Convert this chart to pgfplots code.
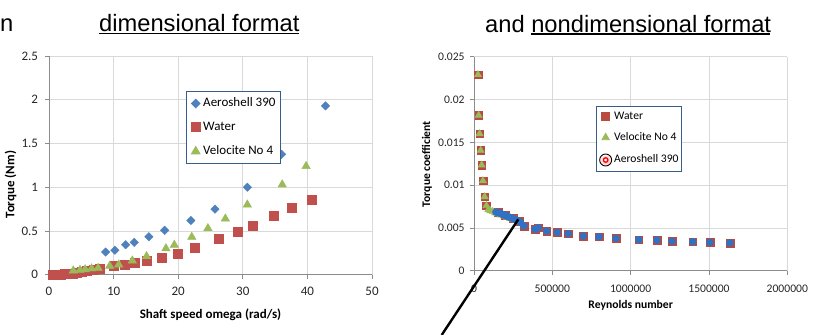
\documentclass[border=0pt]{standalone}
\usepackage{pgfplots}
\pgfplotsset{compat=1.18}
\usepackage{fontspec}
\setmainfont{Carlito}
\newfontfamily\arialfont{Liberation Sans}
\definecolor{aeroblue}{HTML}{4F81BD}
\definecolor{waterred}{HTML}{C0504D}
\definecolor{velgreen}{HTML}{9BBB59}
\definecolor{water2}{HTML}{B84A40}
\definecolor{aero2}{HTML}{2F72C4}
\definecolor{legblue}{HTML}{385D8A}
\definecolor{gridgray}{HTML}{D9D9D9}
\definecolor{axgray}{HTML}{8C8C8C}
\pgfplotsset{
  excel/.style={
    scale only axis, clip=false,
    axis lines*=left,
    axis line style={axgray, line width=0.8pt},
    grid=major, grid style={gridgray, line width=0.8pt},
    tick align=outside, major tick length=4bp,
    tick style={axgray, line width=0.8pt},
    xtick pos=bottom, ytick pos=left,
    ticklabel style={text=black!85},
    legend cell align=left,
    legend image code/.code={\draw[##1] plot coordinates {(0bp,0bp)};},
  }
}
\begin{document}
\begin{tikzpicture}
\useasboundingbox (0,0) rectangle (813bp,335bp);
% ---------- left: dimensional ----------
\begin{axis}[excel,
  at={(49bp,60.3bp)}, anchor=south west,
  width=323bp, height=218.7bp,
  xmin=0, xmax=50, ymin=0, ymax=2.5,
  xtick={0,10,20,30,40,50}, xticklabels={0,10,20,30,40,50},
  ytick={0,0.5,1,1.5,2,2.5}, yticklabels={0,0.5,1,1.5,2,2.5},
  font=\fontsize{13bp}{15bp}\selectfont,
  xticklabel style={anchor=center, yshift=-12.7bp},
  yticklabel style={anchor=east, inner sep=0pt, xshift=-6.8bp},
  xlabel={\textbf{Shaft speed omega (rad/s)}},
  xlabel style={at={(axis description cs:0.5,0)}, anchor=base, yshift=-44bp},
  ylabel={\textbf{Torque (Nm)}},
  ylabel style={at={(axis description cs:-0.119,0.412)}, anchor=center},
  legend style={at={(axis description cs:0.425,0.84)}, anchor=north west,
    draw=legblue, line width=0.9pt, fill=white,
    nodes={inner sep=0pt, text height=9bp, text depth=3bp},
    row sep=12bp, column sep=3bp, inner xsep=4.5bp, inner ysep=6bp,
    font=\fontsize{13bp}{15bp}\selectfont},
]
\addplot[only marks, mark=square*, mark size=3bp, mark options={rotate=45, fill=aeroblue, draw=aeroblue}]
coordinates {(8.76,0.259) (10.2,0.28) (11.86,0.343) (13.2,0.37) (15.46,0.434) (17.9,0.507) (21.96,0.62) (25.7,0.75) (30.7,1.0) (36.0,1.376) (42.8,1.93)};
\addlegendentry{Aeroshell 390}
\addplot[only marks, mark=square*, mark size=4.5bp, mark options={fill=waterred, draw=waterred}]
coordinates {(0.6,0.003) (1.2,0.003) (1.8,0.004) (2.4,0.006) (3.0,0.01) (3.6,0.014) (4.3,0.02) (5.0,0.03) (5.9,0.045) (6.9,0.058) (7.9,0.07) (9.95,0.1) (11.75,0.12) (13.2,0.14) (15.1,0.165) (17.5,0.2) (19.85,0.245) (22.6,0.305) (26.3,0.41) (29.2,0.495) (31.5,0.56) (34.8,0.68) (37.6,0.77) (40.7,0.86)};
\addlegendentry{Water}
\addplot[only marks, mark=triangle*, mark size=4.9bp, mark options={fill=velgreen, draw=velgreen}]
coordinates {(3.76,0.046) (4.8,0.053) (5.6,0.06) (6.6,0.07) (7.6,0.076) (9.4,0.1) (10.8,0.115) (12.9,0.16) (15.1,0.21) (18.1,0.3) (19.4,0.34) (22.1,0.43) (24.6,0.53) (27.3,0.64) (30.7,0.80) (36.1,1.03) (39.8,1.24)};
\addlegendentry{Velocite No 4}
\end{axis}
% ---------- right: nondimensional ----------
\begin{axis}[excel,
  at={(474bp,64.3bp)}, anchor=south west,
  width=313.3bp, height=214bp,
  xmin=0, xmax=2000000, ymin=0, ymax=0.025,
  xtick={0,500000,1000000,1500000,2000000}, xticklabels={0,500000,1000000,1500000,2000000},
  ytick={0,0.005,0.01,0.015,0.02,0.025}, yticklabels={0,0.005,0.01,0.015,0.02,0.025},
  scaled x ticks=false, scaled y ticks=false,
  font=\fontsize{11.6bp}{13.5bp}\selectfont,
  xticklabel style={anchor=center, yshift=-14bp},
  yticklabel style={anchor=east, inner sep=0pt, xshift=-5.2bp},
  xlabel={\textbf{Reynolds number}},
  xlabel style={at={(axis description cs:0.5,0)}, anchor=base, yshift=-38bp},
  ylabel={\textbf{Torque coefficient}},
  ylabel style={at={(axis description cs:-0.15,0.498)}, anchor=center},
  legend style={at={(axis description cs:0.388,0.771)}, anchor=north west,
    draw=legblue, line width=0.9pt, fill=white,
    nodes={inner sep=0pt, text height=8bp, text depth=2.5bp},
    row sep=10.7bp, column sep=2bp, inner xsep=3.2bp, inner ysep=5bp,
    font=\fontsize{11.6bp}{13.5bp}\selectfont},
]
\addplot[only marks, mark=square*, mark size=3.8bp, mark options={fill=water2, draw=water2}]
coordinates {(25500,0.0229) (29800,0.01815) (36000,0.0160) (42500,0.01406) (49000,0.01234) (57000,0.01051) (68000,0.00864) (79000,0.0076) (155000,0.0068) (200000,0.0065) (250000,0.0061) (290000,0.0058) (319000,0.00522) (389000,0.00483) (411000,0.00502) (464000,0.00463) (532000,0.00448) (602000,0.00432) (698000,0.00405) (798000,0.00397) (906000,0.00378) (1051000,0.00362) (1168000,0.00358) (1264000,0.00343) (1396000,0.00339) (1506000,0.00331) (1634000,0.00323)};
\addlegendentry{Water}
\addplot[only marks, mark=triangle*, mark size=4.2bp, mark options={fill=velgreen, draw=velgreen}]
coordinates {(25500,0.0229) (29800,0.01815) (36000,0.0160) (42500,0.01406) (49000,0.01234) (57000,0.01051) (68000,0.00864) (79000,0.0076) (91500,0.00712) (105000,0.00700) (120000,0.00690) (135000,0.00675) (150000,0.00665) (170000,0.00650) (190000,0.00638) (210000,0.00625) (230000,0.00612) (250000,0.00600) (270000,0.0059)};
\addlegendentry{Velocite No 4}
\addplot[only marks, mark=*, mark size=3.5bp, mark options={fill=aero2, draw=aero2},
  legend image code/.code={\shade[inner color=red!45, outer color=white] (0bp,0bp) circle (6bp);
    \draw[red, line width=1.3bp, fill=white] (0bp,0bp) circle (2.2bp);}]
coordinates {(140000,0.00685) (155000,0.00678) (167000,0.0067) (177000,0.00662) (188000,0.00655) (198000,0.00646) (209000,0.0064) (219000,0.00631) (233000,0.0062) (247000,0.00611) (260000,0.006) (272000,0.00592) (285000,0.0058) (298000,0.0056) (319000,0.00522) (389000,0.00483) (411000,0.00502) (464000,0.00463) (532000,0.00448) (602000,0.00432) (698000,0.00405) (798000,0.00397) (906000,0.00378) (1051000,0.00362) (1168000,0.00358) (1264000,0.00343) (1396000,0.00339) (1506000,0.00331) (1634000,0.00323)};
\addlegendentry{Aeroshell 390}
\end{axis}
% ---------- titles ----------
\node[anchor=base west, inner sep=0pt, font=\arialfont\fontsize{23.7bp}{26bp}\selectfont] at (0bp,303.3bp) {n};
\node[anchor=base west, inner sep=0pt, font=\arialfont\fontsize{23.7bp}{26bp}\selectfont] at (99bp,303.3bp) {dimensional format};
\fill (99bp,300.7bp) rectangle (299bp,302.3bp);
\node[anchor=base west, inner sep=0pt, font=\arialfont\fontsize{23.7bp}{26bp}\selectfont] at (485bp,302.8bp) {and nondimensional format};
\fill (530.7bp,300.2bp) rectangle (770bp,301.8bp);
% ---------- pointer line ----------
\draw[black, line width=2.4bp] (441.7bp,0bp) -- (518.3bp,115.7bp);
\end{tikzpicture}
\end{document}
